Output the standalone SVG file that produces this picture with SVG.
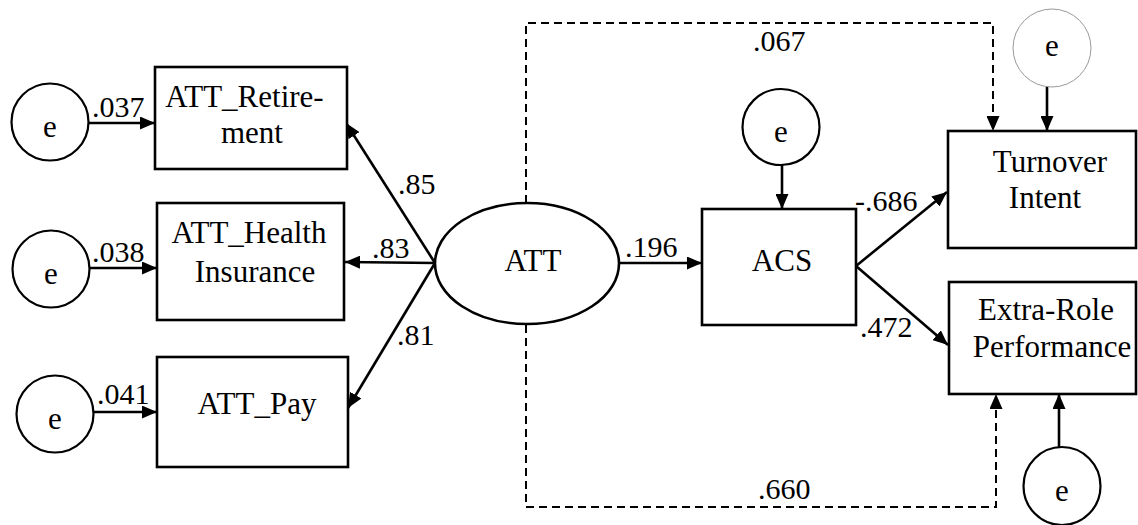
<svg xmlns="http://www.w3.org/2000/svg" width="1138" height="525" viewBox="0 0 1138 525">
<defs>
<style>
.box{fill:#fff;stroke:#000;stroke-width:2.6}
.err{fill:#fff;stroke:#000;stroke-width:2.2}
.errg{fill:#fff;stroke:#999;stroke-width:1}
.t{font-family:"Liberation Serif","Times New Roman",serif;font-size:31px;fill:#000}
.n{font-family:"Liberation Serif","Times New Roman",serif;font-size:30px;fill:#000}
.c{text-anchor:middle}
.ln{fill:none;stroke:#000;stroke-width:2.6;marker-end:url(#ah)}
.dl{fill:none;stroke:#000;stroke-width:2;stroke-dasharray:8,5;marker-end:url(#ah)}
</style>
<marker id="ah" markerUnits="userSpaceOnUse" markerWidth="15" markerHeight="13" refX="15" refY="6.5" orient="auto">
<path d="M0,0 L15,6.5 L0,13 z" fill="#000"/>
</marker>
</defs>
<rect width="1138" height="525" fill="#fff"/>

<g id="connectors">
<path class="ln" d="M89,123 H155"/>
<path class="ln" d="M89,268 H157"/>
<path class="ln" d="M93,412 H157"/>
<path class="ln" d="M435,263 L346,123"/>
<path class="ln" d="M435,263 L345,262"/>
<path class="ln" d="M435,263 L348,408"/>
<path class="ln" d="M619,263 H702"/>
<path class="ln" d="M782,165 V209"/>
<path class="ln" d="M856,266 L947,192"/>
<path class="ln" d="M856,266 L948,345"/>
<path class="ln" d="M1047,87 V131"/>
<path class="ln" d="M1059,447 V394"/>
<path class="dl" d="M526,203 V23 H993 V131"/>
<path class="dl" d="M526,325 V507 H996 V394"/>
<text class="n" x="92" y="117">.037</text>
<text class="n" x="92" y="262">.038</text>
<text class="n" x="97" y="404">.041</text>
<text class="n" x="398" y="194">.85</text>
<text class="n" x="372" y="258">.83</text>
<text class="n" x="397" y="345">.81</text>
<text class="n" x="625" y="257">.196</text>
<text class="n" x="753" y="51">.067</text>
<text class="n" x="758" y="499">.660</text>
<text class="n" x="855" y="211">-.686</text>
<text class="n" x="860" y="337">.472</text>
</g>

<g id="e1"><circle class="err" cx="50" cy="122" r="38.5"/><text class="t c" x="50" y="137">e</text></g>
<g id="e2"><circle class="err" cx="51" cy="269" r="38.5"/><text class="t c" x="51" y="284">e</text></g>
<g id="e3"><circle class="err" cx="55" cy="414" r="38.5"/><text class="t c" x="55" y="429">e</text></g>
<g id="e_acs"><ellipse class="err" cx="781" cy="127" rx="38.5" ry="38"/><text class="t c" x="781" y="142">e</text></g>
<g id="e_turnover"><circle class="errg" cx="1052" cy="48" r="39"/><text class="t c" x="1052" y="56">e</text></g>
<g id="e_extra"><ellipse class="err" cx="1062" cy="486" rx="38.5" ry="39"/><text class="t c" x="1062" y="501">e</text></g>

<g id="att_retirement"><rect class="box" x="155" y="67" width="192" height="102"/>
<text class="t c" x="244.5" y="107">ATT_Retire-</text><text class="t c" x="252" y="143">ment</text></g>
<g id="att_health"><rect class="box" x="157" y="203" width="187" height="117"/>
<text class="t c" x="249" y="243">ATT_Health</text><text class="t c" x="255" y="282">Insurance</text></g>
<g id="att_pay"><rect class="box" x="157" y="357" width="191" height="110"/>
<text class="t c" x="257" y="414">ATT_Pay</text></g>
<g id="att"><ellipse class="box" cx="527" cy="263.5" rx="92" ry="60.5"/>
<text class="t c" x="533" y="271">ATT</text></g>
<g id="acs"><rect class="box" x="702" y="209" width="154" height="116"/>
<text class="t c" x="782" y="271">ACS</text></g>
<g id="turnover"><rect class="box" x="948" y="131" width="188" height="117"/>
<text class="t c" x="1050" y="172">Turnover</text><text class="t c" x="1045" y="208">Intent</text></g>
<g id="extrarole"><rect class="box" x="949" y="282" width="187" height="112"/>
<text class="t c" x="1046" y="320">Extra-Role</text><text class="t c" x="1052" y="357">Performance</text></g>
</svg>
